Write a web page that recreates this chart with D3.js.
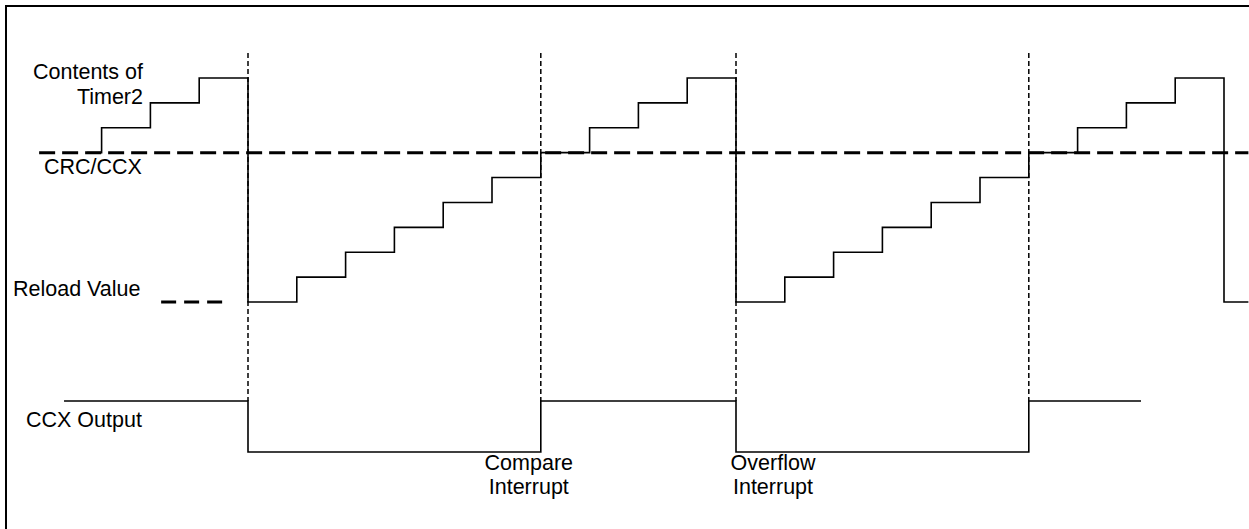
<!DOCTYPE html>
<html>
<head>
<meta charset="utf-8">
<script src="https://cdn.jsdelivr.net/npm/d3@7/dist/d3.min.js"></script>
<style>
  body { margin: 0; background: #fff; }
  text { font-family: "Liberation Sans", Arial, sans-serif; font-size: 21.5px; fill: #000; }
</style>
</head>
<body>
<div id="diagram"></div>
<script>
// klokpulsen (ticks) en inhoud van Timer2
var timerTicks  = [-3.3, -3, -2, -1, 0, 1, 2, 3, 4, 5, 6, 7, 8, 9, 10, 11, 12, 13, 14, 15, 16, 17, 18, 19, 20, 20.5];
var timerCounts = [6, 7, 8, 9, 0, 1, 2, 3, 4, 5, 6, 7, 8, 9, 0, 1, 2, 3, 4, 5, 6, 7, 8, 9, 0, 0];

// CCX uitgang (1 = hoog, 0 = laag)
var outputTicks  = [-3.77, 0, 6, 10, 16, 18.3];
var outputLevels = [1, 0, 1, 0, 1, 1];

// momenten van compare / overflow
var eventTicks = [0, 6, 10, 16];

// vaste niveaus
var crcLevel = 6;
var reloadLevel = 0;
var markerTop = 10;
var crcRange = [-4.28, 20.5];
var reloadRange = [-1.78, -0.49];

var labels = [
  {text: ["Contents of", "Timer2"]},
  {text: ["CRC/CCX"]},
  {text: ["Reload Value"]},
  {text: ["CCX Output"]}
];
var interruptLabels = [
  {tick: 6, text: ["Compare", "Interrupt"]},
  {tick: 10, text: ["Overflow", "Interrupt"]}
];

var breedte = 1249, hoogte = 529;

var svg = d3.select("#diagram").append("svg")
            .attr("width", breedte)
            .attr("height", hoogte);

// kader
svg.append("rect")
   .attr("x", 6).attr("y", 6)
   .attr("width", 1250).attr("height", 540)
   .attr("fill", "none")
   .attr("stroke", "#000")
   .attr("stroke-width", 2);

// schalen
var x = d3.scaleLinear().domain([0, 10]).range([248, 736]);
var y = d3.scaleLinear().domain([0, 9]).range([302, 78]);
var yOut = d3.scaleLinear().domain([0, 1]).range([452, 401]);

// verticale gestippelde lijnen
svg.selectAll(".marker")
   .data(eventTicks)
   .enter()
   .append("line")
   .attr("class", "marker")
   .attr("x1", function(d) { return x(d); })
   .attr("x2", function(d) { return x(d); })
   .attr("y1", y(markerTop))
   .attr("y2", yOut(1))
   .attr("stroke", "#000")
   .attr("stroke-width", 1.5)
   .attr("stroke-dasharray", "5,3");

// CRC/CCX niveau
svg.append("line")
   .attr("x1", x(crcRange[0])).attr("x2", x(crcRange[1]))
   .attr("y1", y(crcLevel)).attr("y2", y(crcLevel))
   .attr("stroke", "#000")
   .attr("stroke-width", 3)
   .attr("stroke-dasharray", "16,7");

// reload niveau
svg.append("line")
   .attr("x1", x(reloadRange[0])).attr("x2", x(reloadRange[1]))
   .attr("y1", y(reloadLevel)).attr("y2", y(reloadLevel))
   .attr("stroke", "#000")
   .attr("stroke-width", 3)
   .attr("stroke-dasharray", "15,8");

// Timer2 trap
var timerData = timerTicks.map(function(t, i) { return [t, timerCounts[i]]; });
var timerLijn = d3.line()
                  .x(function(d) { return x(d[0]); })
                  .y(function(d) { return y(d[1]); })
                  .curve(d3.curveStepAfter);
svg.append("path")
   .datum(timerData)
   .attr("d", timerLijn)
   .attr("fill", "none")
   .attr("stroke", "#000")
   .attr("stroke-width", 1.6);

// CCX uitgang
var outData = outputTicks.map(function(t, i) { return [t, outputLevels[i]]; });
var outLijn = d3.line()
                .x(function(d) { return x(d[0]); })
                .y(function(d) { return yOut(d[1]); })
                .curve(d3.curveStepAfter);
svg.append("path")
   .datum(outData)
   .attr("d", outLijn)
   .attr("fill", "none")
   .attr("stroke", "#000")
   .attr("stroke-width", 1.6);

// labels links
var contents = svg.append("text").attr("text-anchor", "end");
contents.append("tspan").attr("x", 143).attr("y", 79).text(labels[0].text[0]);
contents.append("tspan").attr("x", 143).attr("y", 104).text(labels[0].text[1]);

svg.append("text").attr("x", 44).attr("y", 174).text(labels[1].text[0]);
svg.append("text").attr("x", 13).attr("y", 296).text(labels[2].text[0]);
svg.append("text").attr("x", 26).attr("y", 427).text(labels[3].text[0]);

// interrupt labels
interruptLabels.forEach(function(l, i) {
  var tx = i == 0 ? x(l.tick) - 12 : x(l.tick) + 37;
  var t = svg.append("text").attr("text-anchor", "middle");
  t.append("tspan").attr("x", tx).attr("y", 470).text(l.text[0]);
  t.append("tspan").attr("x", tx).attr("y", 494).text(l.text[1]);
});
</script>
</body>
</html>
